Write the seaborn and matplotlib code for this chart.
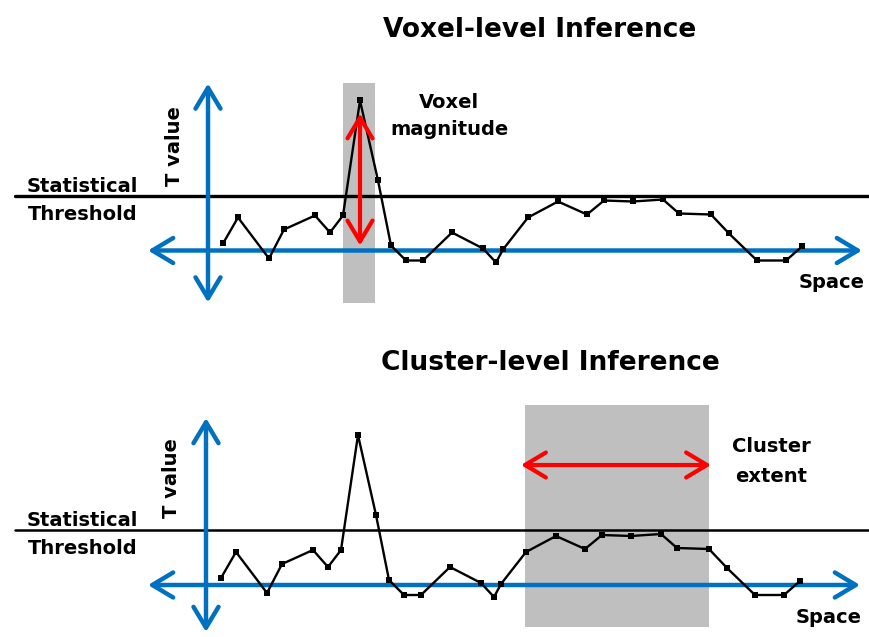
import matplotlib
matplotlib.use("Agg")
import matplotlib.pyplot as plt
import numpy as np
import pandas as pd
import seaborn as sns
from matplotlib.patches import Rectangle

# === Data (space position vs T value, same profile in both panels) ===
space = [1.5, 3.0, 6.1, 7.6, 10.7, 12.2, 13.5, 15.2, 17.0, 18.3, 19.8, 21.5,
         24.4, 27.5, 28.8, 29.5, 32.0, 35.0, 37.9, 39.6, 42.5, 45.5, 47.1,
         50.3, 52.1, 54.9, 57.8, 59.4]
t_value = [0.7, 3.3, -0.8, 2.1, 3.5, 1.8, 3.5, 15.0, 7.0, 0.5, -1.0, -1.0,
           1.8, 0.2, -1.2, 0.1, 3.3, 4.9, 3.6, 5.0, 4.9, 5.1, 3.7,
           3.6, 1.7, -1.0, -1.0, 0.4]
threshold = [5.4, 5.5]

voxel_window = (13.5, 16.7)
voxel_window_t = (-5.3, 16.7)
voxel_arrow_x = 15.2
voxel_arrow_t = (13.7, 0.5)

cluster_window = (31.9, 50.3)
cluster_window_t = (-4.2, 18.0)
cluster_arrow_x = (31.5, 50.5)
cluster_arrow_t = 12.0

space_axis = [(-6.0, 65.4), (-5.8, 65.4)]
t_axis = [(-5.2, 16.7), (-4.7, 16.7)]

df = pd.DataFrame({"space": space, "t": t_value})

W, H = 870, 637
BLUE = "#0070C0"
RED = "#FF0000"
GRAY = "#BFBFBF"

sns.set_theme(style="white")
plt.rcParams["font.family"] = ["DejaVu Sans"]
plt.rcParams["text.color"] = "black"

fig = plt.figure(figsize=(W / 100, H / 100), dpi=100)


def make_panel(top_px, bot_px, x0_px, y0_px):
    ax = fig.add_axes([0, 1 - bot_px / H, 1, (bot_px - top_px) / H])
    ax.set_xlim(-x0_px / 10, (W - x0_px) / 10)
    ax.set_ylim((y0_px - bot_px) / 10, (y0_px - top_px) / 10)
    ax.axis("off")
    return ax


def axis_arrows(ax, xs, ts):
    style = "<->,head_length=0.75,head_width=0.45"
    ax.annotate("", xy=(xs[1], 0), xytext=(xs[0], 0),
                arrowprops=dict(arrowstyle=style, color=BLUE, lw=3.2,
                                mutation_scale=20, shrinkA=0, shrinkB=0))
    ax.annotate("", xy=(0, ts[1]), xytext=(0, ts[0]),
                arrowprops=dict(arrowstyle=style, color=BLUE, lw=3.2,
                                mutation_scale=20, shrinkA=0, shrinkB=0))


def red_arrow(ax, start, end):
    ax.annotate("", xy=end, xytext=start,
                arrowprops=dict(arrowstyle="<->,head_length=0.75,head_width=0.45",
                                color=RED, lw=3.0, mutation_scale=20,
                                shrinkA=0, shrinkB=0))


def label(px, py, s, size=14, ha="left", **kw):
    fig.text(px / W, 1 - py / H, s, fontsize=size, fontweight="bold",
             color="black", ha=ha, va="baseline", **kw)


# --- Top panel: voxel-level ---
ax1 = make_panel(0, 318, 208, 250.5)
ax1.add_patch(Rectangle((voxel_window[0], voxel_window_t[0]),
                        voxel_window[1] - voxel_window[0],
                        voxel_window_t[1] - voxel_window_t[0],
                        color=GRAY, lw=0, zorder=0))
ax1.axhline(threshold[0], xmin=15 / W, xmax=1, color="black", lw=2.4, zorder=1)
axis_arrows(ax1, space_axis[0], t_axis[0])
sns.lineplot(data=df, x="space", y="t", ax=ax1, color="black", lw=1.7,
             marker="s", markersize=3.8, markeredgewidth=0, zorder=3)
red_arrow(ax1, (voxel_arrow_x, voxel_arrow_t[1]), (voxel_arrow_x, voxel_arrow_t[0]))
ax1.axis("off")

# --- Bottom panel: cluster-level ---
ax2 = make_panel(318, 637, 206, 585)
ax2.add_patch(Rectangle((cluster_window[0], cluster_window_t[0]),
                        cluster_window[1] - cluster_window[0],
                        cluster_window_t[1] - cluster_window_t[0],
                        color=GRAY, lw=0, zorder=0))
ax2.axhline(threshold[1], xmin=15 / W, xmax=1, color="black", lw=1.8, zorder=1)
axis_arrows(ax2, space_axis[1], t_axis[1])
sns.lineplot(data=df, x="space", y="t", ax=ax2, color="black", lw=1.7,
             marker="s", markersize=3.8, markeredgewidth=0, zorder=3)
red_arrow(ax2, (cluster_arrow_x[0], cluster_arrow_t), (cluster_arrow_x[1], cluster_arrow_t))
ax2.axis("off")

# === Text ===
label(540, 36.7, "Voxel-level Inference", size=19, ha="center")
label(27, 191.7, "Statistical")
label(28, 220, "Threshold")
fig.text(175 / W, 1 - 146.5 / H, "T value", fontsize=14, fontweight="bold",
         color="black", rotation=90, ha="center", va="center")
label(449, 108, "Voxel", ha="center")
label(450, 135, "magnitude", ha="center")
label(831.5, 288, "Space", ha="center")

label(550, 370, "Cluster-level Inference", size=19, ha="center")
label(27, 526, "Statistical")
label(28, 554, "Threshold")
fig.text(172 / W, 1 - 478 / H, "T value", fontsize=14, fontweight="bold",
         color="black", rotation=90, ha="center", va="center")
label(771.7, 451.7, "Cluster", ha="center")
label(771, 481.7, "extent", ha="center")
label(829, 623, "Space", ha="center")

plt.savefig("out.png", dpi=100)
plt.close()
